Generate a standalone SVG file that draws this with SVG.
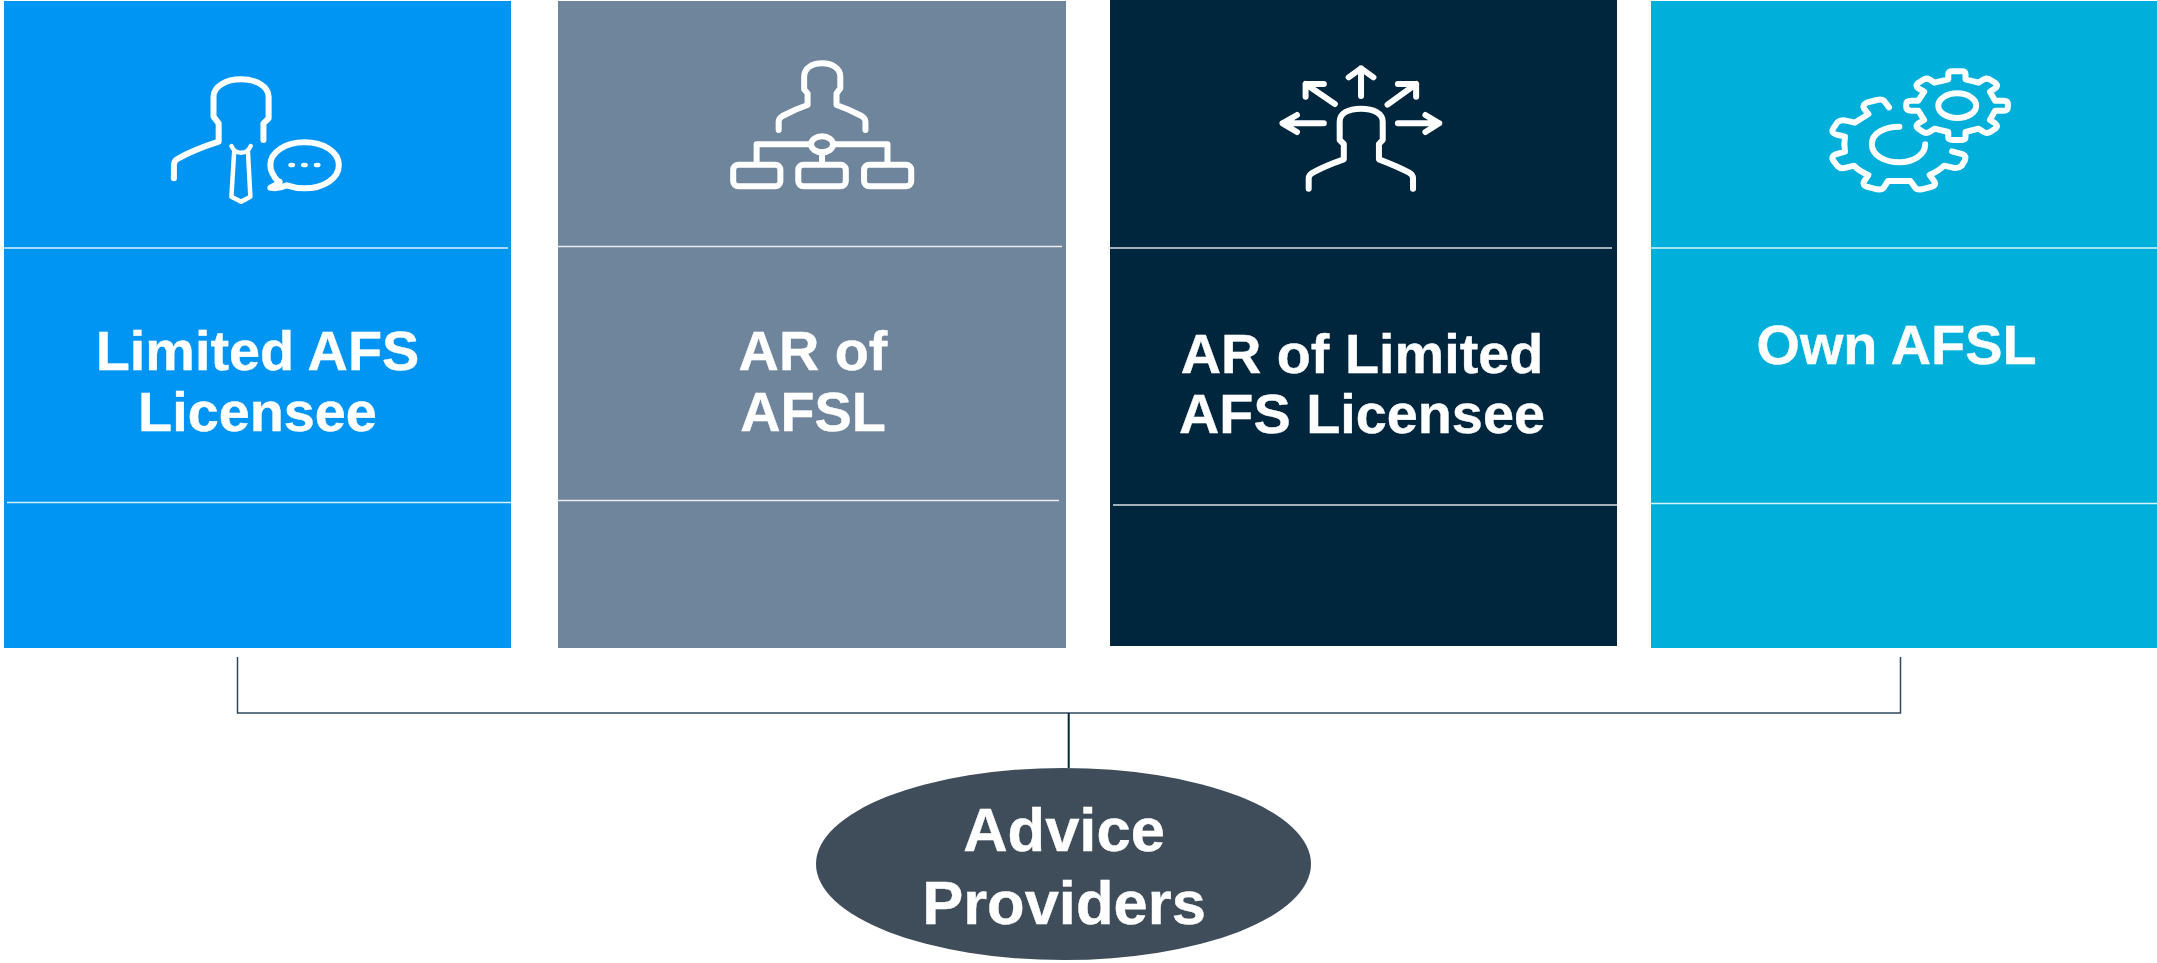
<svg xmlns="http://www.w3.org/2000/svg" width="2157" height="963" viewBox="0 0 2157 963">
<style>
text{font-family:"Liberation Sans",Arial,sans-serif;font-weight:700;fill:#fff;text-anchor:middle;stroke:#fff;stroke-width:.4}
.t{font-size:55.8px}
.e{font-size:61.5px}
.d{stroke:#fff;stroke-width:1.5;opacity:.85}
.i path,.i rect,.i ellipse{fill:none;stroke:#fff;stroke-width:6;stroke-linecap:round;stroke-linejoin:round;vector-effect:non-scaling-stroke}
.i .f{fill:#fff;stroke:none}
.i .n{stroke-width:4.500}
</style>
<rect width="2157" height="963" fill="#fff"/>
<g id="connectors" fill="none">
<path d="M237.500 657V713H1900.500V657" stroke="#2c4a5e" stroke-width="1.500"/>
<path d="M1068.700 713V768" stroke="#00263e" stroke-width="2"/>
</g>
<g id="node-limited">
<rect x="4" y="1" width="507" height="647" fill="#0095f2"/>
<path class="d" d="M4 248H508M7 502.500H511"/>
<g class="i" transform="scale(.34437 .33333)">
<path d="M765 420V370L780 355V290C780 260 745 238 700 238C655 238 620 260 620 290V350L635 370V425C590 440 540 462 515 477Q505 483 505 495V535"/>
<path class="n" d="M672 438Q680 458 700 458Q720 458 728 438M680 455L672 590L700 605L727 590L720 455"/>
<path d="M808 545C790 525 785 510 785 495C785 455 830 427 884 427C940 427 984 455 984 495C984 535 940 565 884 565C865 565 850 562 833 556C820 562 800 567 785 563C795 558 805 553 812 545"/>
<ellipse class="f" cx="847" cy="495" rx="10" ry="7"/><ellipse class="f" cx="884" cy="495" rx="10" ry="7"/><ellipse class="f" cx="921" cy="495" rx="10" ry="7"/>
</g>
<text class="t" x="257.500" y="370.300">Limited AFS</text>
<text class="t" x="257.500" y="430.800">Licensee</text>
</g>
<g id="node-ar-afsl">
<rect x="558" y="1" width="508" height="647" fill="#6f859c"/>
<path class="d" d="M558 246.500H1062M558 500.500H1059"/>
<g class="i" transform="translate(550 0) scale(.34437 .33333)">
<path d="M664 390V365Q664 355 675 348C695 337 725 323 748 315V280L738 268V230C738 205 760 190 790 190C820 190 843 205 843 230V265L832 280V315C855 323 885 337 905 348Q916 355 916 365V390"/>
<ellipse cx="790" cy="433" rx="32" ry="24"/>
<path d="M758 433H600V490M822 433H980V490M790 457V490"/>
<rect x="532" y="494" width="137" height="65" rx="15"/><rect x="721" y="494" width="138" height="65" rx="15"/><rect x="912" y="494" width="137" height="65" rx="15"/>
</g>
<text class="t" x="813" y="370.300">AR of</text>
<text class="t" x="813" y="430.800">AFSL</text>
</g>
<g id="node-ar-limited">
<rect x="1110" y="0" width="507" height="646" fill="#00263e"/>
<path class="d" d="M1110 248H1612M1113 505H1617"/>
<g class="i" transform="translate(1100 0) scale(.34437 .33333)">
<path d="M606 566V535Q606 525 618 518C640 505 680 488 708 478V432L696 420V365C696 340 720 326 758 326C795 326 821 340 821 365V420L810 432V478C840 490 875 505 898 518Q909 525 909 535V566"/>
<path d="M758 288V205M722 232L758 205L794 232M650 370H530M572 345L530 370L572 396M865 370H985M945 345L985 370L945 396M682 312L597 252M650 252H597V290M835 314L918 252M865 252H918V290"/>
</g>
<text class="t" x="1362" y="372.700">AR of Limited</text>
<text class="t" x="1362" y="433.300">AFS Licensee</text>
</g>
<g id="node-own-afsl">
<rect x="1651" y="1" width="506" height="647" fill="#00b0da"/>
<path class="d" d="M1651 248H2157M1651 503.500H2157"/>
<g class="i" transform="translate(1617 0) scale(.34437 .33333)">
<ellipse cx="988" cy="317" rx="55" ry="37"/>
<path d="M962 238V222Q962 214 975 214H1001Q1012 214 1012 222V238L1050 248L1065 238Q1075 233 1085 240L1100 250Q1108 258 1098 265L1083 275L1098 302H1122Q1135 302 1135 312V322Q1135 332 1122 332H1098L1083 360L1098 370Q1108 378 1100 385L1085 395Q1075 402 1065 396L1050 386L1012 396V412Q1012 420 1001 420H975Q962 420 962 412V396L922 386L907 396Q898 402 888 395L873 385Q865 378 875 370L892 360L875 332H855Q840 332 840 322V312Q840 302 855 302H875L892 275L875 265Q865 258 873 250L888 240Q898 233 907 238L922 248Z"/>
<path d="M820 380C775 380 740 400 740 433C740 465 775 487 820 487C860 487 895 465 895 433"/>
<path d="M790 322L775 302Q768 297 755 300L725 308Q712 314 717 325L730 342L690 368L665 362Q650 358 640 367L628 385Q620 398 635 403L662 410Q658 433 662 455L635 463Q620 468 628 482L640 498Q650 508 665 503L688 497Q705 515 730 525L717 545Q712 555 725 560L755 568Q770 570 775 562L787 543H852L865 562Q870 570 885 568L915 560Q928 555 922 545L908 525Q935 512 950 497L975 503Q990 507 1000 498L1010 482Q1015 468 1005 463L973 454"/>
</g>
<text class="t" x="1896.500" y="364.300">Own AFSL</text>
</g>
<g id="node-advice-providers">
<ellipse cx="1063.500" cy="864" rx="247.500" ry="96" fill="#3f4c5a"/>
<text class="e" x="1064" y="851">Advice</text>
<text class="e" x="1064" y="924">Providers</text>
</g>
</svg>
